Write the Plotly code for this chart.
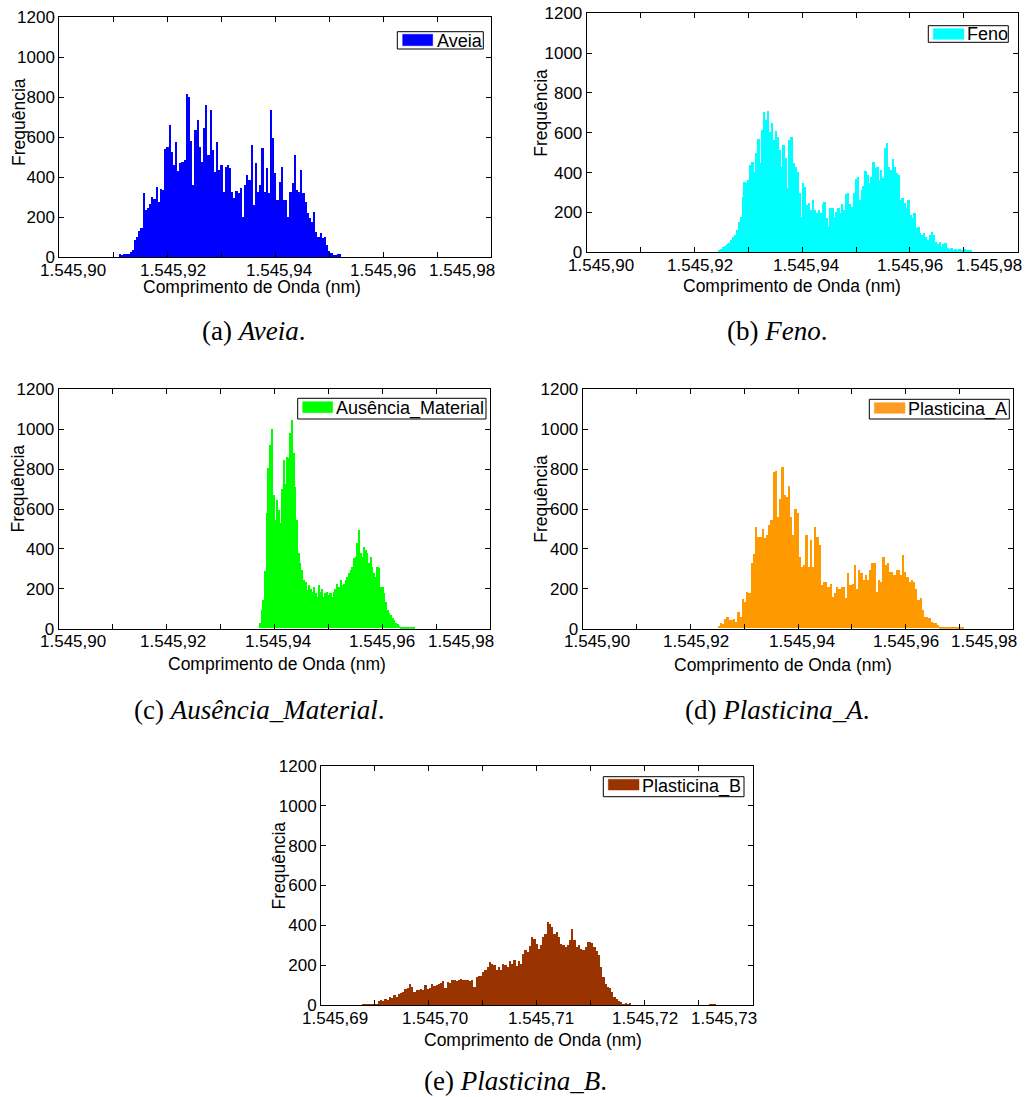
import numpy as np
import plotly.graph_objects as go

# ---------------- DATA ----------------
YTICK_VALUES = [0, 200, 400, 600, 800, 1000, 1200]
YTICK_LABELS = ["0", "200", "400", "600", "800", "1000", "1200"]
XTICK_LABELS_TOP = ["1.545,90", "1.545,92", "1.545,94", "1.545,96", "1.545,98"]
XTICK_VALUES_TOP = [1545.90, 1545.92, 1545.94, 1545.96, 1545.98]
XTICK_LABELS_E = ["1.545,69", "1.545,70", "1.545,71", "1.545,72", "1.545,73"]
XTICK_VALUES_E = [1545.69, 1545.70, 1545.71, 1545.72, 1545.73]

SERIES_NAMES = ["Aveia", "Feno", "Ausência_Material", "Plasticina_A", "Plasticina_B"]

# wavelength span (nm) covered by each histogram's bins
AVEIA_START, AVEIA_END = 1545.9111, 1545.9523
FENO_START, FENO_END = 1545.92443, 1545.9715
AUSENCIA_START, AUSENCIA_END = 1545.93721, 1545.9661
PLASTA_START, PLASTA_END = 1545.92501, 1545.97071
PLASTB_START, PLASTB_END = 1545.69361, 1545.72657

AVEIA_COUNTS = [12, 10, 13, 12, 15, 25, 35, 85, 100, 130, 145, 317, 235, 245, 265, 300, 290, 350, 275, 338,
                335, 540, 550, 658, 525, 458, 575, 430, 467, 475, 483, 817, 800, 580, 360, 633, 683, 550, 475, 642,
                758, 508, 733, 533, 425, 575, 433, 458, 325, 450, 458, 442, 325, 292, 330, 320, 342, 200, 358, 408,
                383, 558, 260, 467, 325, 358, 542, 325, 442, 317, 733, 592, 417, 283, 375, 450, 283, 283, 200, 325,
                367, 508, 333, 325, 433, 317, 275, 217, 192, 175, 225, 125, 100, 117, 92, 100, 58, 30, 17, 8,
                10, 15, 12]

FENO_COUNTS = [8, 15, 25, 30, 40, 43, 60, 77, 85, 110, 150, 177,
               278, 353, 345, 362, 437, 453, 403, 495, 566, 445, 613, 705, 663, 710, 604, 650, 562, 609,
               576, 512, 428, 537, 470, 320, 562, 579, 445, 428, 403, 295, 177, 348, 328, 236, 244, 211, 261, 211,
               194, 211, 194, 241, 253, 169, 127, 219, 219, 177, 202, 219, 194, 241, 211, 291, 298, 241, 228, 298,
               365, 378, 261, 311, 331, 408, 387, 345, 378, 453, 420, 428, 362, 412, 370, 521, 549, 428, 412, 465,
               428, 395, 387, 261, 270, 244, 219, 261, 186, 169, 194, 119, 127, 94, 85, 94, 77, 60, 85, 102,
               85, 52, 40, 52, 27, 40, 47, 18, 13, 18, 7, 13, 7, 13, 10, 7, 13, 7, 10, 7]

AUSENCIA_COUNTS = [25, 92, 142, 290, 576, 802, 920, 1000, 668, 543, 643, 593, 526, 701, 843, 726, 860, 852, 977, 1047,
                   877, 710, 543, 376, 326, 292, 242, 234, 192, 217, 200, 184, 209, 175, 159, 217, 184, 200, 159, 175,
                   184, 167, 175, 159, 184, 200, 225, 209, 242, 217, 225, 242, 259, 276, 292, 309, 351, 359, 426, 493,
                   376, 359, 409, 392, 376, 326, 359, 309, 276, 259, 309, 301, 209, 209, 175, 134, 92, 75, 67, 50,
                   42, 25, 20, 12, 8, 8, 5, 5, 5, 3, 5, 5, 5]

PLASTA_COUNTS = [13, 25, 20, 45, 55, 42, 42, 45, 33, 80, 55, 147, 134, 184, 175, 326, 371, 509, 459, 459,
                 500, 451, 470, 518, 543, 782, 790, 560, 651, 810, 668, 660, 715, 560, 468, 601, 576, 359, 309, 317,
                 468, 309, 443, 309, 509, 459, 418, 217, 234, 234, 209, 225, 159, 175, 209, 200, 209, 209, 150, 276,
                 217, 225, 317, 200, 292, 276, 242, 267, 242, 292, 326, 326, 184, 242, 234, 359, 317, 326, 284, 284,
                 267, 292, 292, 267, 367, 284, 259, 234, 242, 234, 200, 142, 150, 92, 58, 55, 50, 33, 25, 25,
                 17, 8, 8, 5, 5, 3, 3, 3, 3, 3, 3, 3]

PLASTB_COUNTS = [3, 5, 5, 5, 7, 5, 7, 8,
                 23, 27, 23, 35, 30, 43, 38, 52, 43, 60, 63, 68, 85, 90, 106, 93, 68, 77, 80, 85,
                 77, 102, 85, 90, 110, 97, 102, 110, 113, 123, 90, 118, 115, 127, 130, 123, 130, 135, 130, 127,
                 130, 123, 127, 93, 143, 147, 147, 169, 177, 194, 219, 210, 202, 177, 194, 177, 210, 202, 194, 224,
                 210, 227, 197, 224, 210, 260, 280, 269, 297, 344, 335, 310, 285, 302, 344, 360, 419, 411, 394, 360,
                 369, 344, 310, 302, 294, 302, 327, 386, 330, 294, 302, 285, 277, 294, 319, 319, 314, 294, 274, 252,
                 194, 143, 110, 93, 90, 68, 43, 35, 23, 18, 10, 13, 7, 13,
                 0, 0, 0, 0, 0, 0, 0, 0, 0, 0, 0, 0, 0, 0, 0, 0, 0, 0, 0, 0,
                 0, 0, 0, 0, 0, 0, 0, 0, 0, 0, 0, 0, 0, 0, 0, 4, 7, 4]

COLORS = ["#0000FF", "#00FFFF", "#00FF00", "#FF9900", "#993300"]
SWATCH_COLORS = ["#0000FF", "#00FFFF", "#00FF00", "#FF9C26", "#993300"]
CAPTIONS = ["(a) <i>Aveia</i>.", "(b) <i>Feno</i>.", "(c) <i>Ausência_Material</i>.",
            "(d) <i>Plasticina_A</i>.", "(e) <i>Plasticina_B</i>."]
X_TITLE = "Comprimento de Onda (nm)"
Y_TITLE = "Frequência"

# ---------------- LAYOUT (pixels) ----------------
W, H = 1025, 1097
SANS = "Liberation Sans, Arial, sans-serif"
SERIF = "Liberation Serif, Times New Roman, serif"

panels = [
    dict(counts=AVEIA_COUNTS, start=AVEIA_START, end=AVEIA_END,
         box=(59.3, 17.3, 491.0, 257.0), xr=(1545.90, 1545.98),
         tl=XTICK_LABELS_TOP, tv=XTICK_VALUES_TOP,
         xt=(251.7, 287.0), yt=(18.3, 121.7),
         leg=((397.3, 31.7, 483.3, 49.0), (402.7, 34.3, 432.7, 45.7), (435.5, 40.5)),
         cap=(253, 331)),
    dict(counts=FENO_COUNTS, start=FENO_START, end=FENO_END,
         box=(586.7, 13.3, 1017.7, 252.3), xr=(1545.90, 1545.98),
         tl=XTICK_LABELS_TOP, tv=XTICK_VALUES_TOP,
         xt=(791.7, 285.7), yt=(541.2, 112.5),
         leg=((928.3, 25.7, 1008.3, 42.3), (933.3, 28.7, 964.0, 39.3), (966.2, 34.0)),
         cap=(777, 331)),
    dict(counts=AUSENCIA_COUNTS, start=AUSENCIA_START, end=AUSENCIA_END,
         box=(58.7, 389.3, 490.0, 628.7), xr=(1545.90, 1545.98),
         tl=XTICK_LABELS_TOP, tv=XTICK_VALUES_TOP,
         xt=(277.0, 664.0), yt=(17.5, 489.0),
         leg=((297.7, 398.3, 486.0, 419.0), (302.7, 401.7, 332.7, 412.7), (334.5, 408.5)),
         cap=(259, 710)),
    dict(counts=PLASTA_COUNTS, start=PLASTA_START, end=PLASTA_END,
         box=(582.7, 389.3, 1013.3, 628.7), xr=(1545.90, 1545.98),
         tl=XTICK_LABELS_TOP, tv=XTICK_VALUES_TOP,
         xt=(783.3, 665.0), yt=(540.8, 499.0),
         leg=((869.3, 399.3, 1009.3, 419.0), (874.3, 402.7, 905.0, 413.3), (907.2, 409.0)),
         cap=(777, 710)),
    dict(counts=PLASTB_COUNTS, start=PLASTB_START, end=PLASTB_END,
         box=(321.0, 765.7, 752.7, 1005.3), xr=(1545.69, 1545.73),
         tl=XTICK_LABELS_E, tv=XTICK_VALUES_E,
         xt=(533.3, 1040.0), yt=(278.8, 865.7),
         leg=((603.3, 776.7, 744.0, 796.7), (608.3, 779.3, 639.0, 790.0), (640.5, 786.7)),
         cap=(515, 1081)),
]
LABEL_SHIFTS = [14, 6, 4, 0, -29]   # edge labels pulled inside the frame


def px(xp):
    return xp / W


def py(yp):
    return 1 - yp / H


fig = go.Figure()
annotations = []
shapes = []
layout = {}

for i, p in enumerate(panels):
    sfx = "" if i == 0 else str(i + 1)
    xref, yref = "x" + sfx, "y" + sfx
    x0, y0, x1, y1 = p["box"]
    counts = np.array(p["counts"], dtype=float)
    n = len(counts)
    bw = (p["end"] - p["start"]) / n
    centers = p["start"] + bw * (np.arange(n) + 0.5)

    fig.add_trace(go.Bar(x=centers, y=counts, width=bw, name=SERIES_NAMES[i],
                         marker=dict(color=COLORS[i], line=dict(width=0)),
                         xaxis=xref, yaxis=yref, showlegend=False))

    layout["xaxis" + sfx] = dict(
        domain=[px(x0), px(x1)], range=list(p["xr"]), anchor=yref, automargin=False,
        tickvals=list(np.linspace(p["xr"][0], p["xr"][1], 9)), showticklabels=False,
        ticks="inside", ticklen=5, tickwidth=1, tickcolor="black",
        showline=True, linecolor="black", linewidth=1, mirror="allticks",
        showgrid=False, zeroline=False)
    layout["yaxis" + sfx] = dict(
        domain=[py(y1), py(y0)], range=[0, 1200], anchor=xref, automargin=False,
        tickvals=YTICK_VALUES, ticktext=YTICK_LABELS,
        ticks="inside", ticklen=5, tickwidth=1, tickcolor="black",
        tickfont=dict(family=SANS, size=17, color="black"),
        showline=True, linecolor="black", linewidth=1, mirror="allticks",
        showgrid=False, zeroline=False)

    # x tick labels
    for lab, val, sh in zip(p["tl"], p["tv"], LABEL_SHIFTS):
        annotations.append(dict(x=val, y=py(y1 + 13), xref=xref, yref="paper", text=lab,
                                xshift=sh, showarrow=False, xanchor="center", yanchor="middle",
                                font=dict(family=SANS, size=17, color="black")))
    # axis titles
    annotations.append(dict(x=px(p["xt"][0]), y=py(p["xt"][1]), xref="paper", yref="paper",
                            text=X_TITLE, showarrow=False, xanchor="center", yanchor="middle",
                            font=dict(family=SANS, size=17.5, color="black")))
    annotations.append(dict(x=px(p["yt"][0]), y=py(p["yt"][1]), xref="paper", yref="paper",
                            text=Y_TITLE, showarrow=False, textangle=-90,
                            xanchor="center", yanchor="middle",
                            font=dict(family=SANS, size=17.5, color="black")))
    # legend (MATLAB-style box)
    (bx0, by0, bx1, by1), (sx0, sy0, sx1, sy1), (tx, ty) = p["leg"]
    shapes.append(dict(type="rect", xref="paper", yref="paper",
                       x0=px(bx0), x1=px(bx1), y0=py(by1), y1=py(by0),
                       fillcolor="white", line=dict(color="black", width=1), layer="above"))
    shapes.append(dict(type="rect", xref="paper", yref="paper",
                       x0=px(sx0), x1=px(sx1), y0=py(sy1), y1=py(sy0),
                       fillcolor=SWATCH_COLORS[i], line=dict(color=SWATCH_COLORS[i], width=0.5),
                       layer="above"))
    annotations.append(dict(x=px(tx), y=py(ty), xref="paper", yref="paper",
                            text=SERIES_NAMES[i], showarrow=False, xanchor="left", yanchor="middle",
                            borderpad=0,
                            font=dict(family=SANS, size=18, color="black")))
    # caption
    annotations.append(dict(x=px(p["cap"][0]), y=py(p["cap"][1]), xref="paper", yref="paper",
                            text=CAPTIONS[i], showarrow=False, xanchor="center", yanchor="middle",
                            font=dict(family=SERIF, size=27, color="black")))

fig.update_layout(
    width=W, height=H, margin=dict(l=0, r=0, t=0, b=0, autoexpand=False),
    paper_bgcolor="white", plot_bgcolor="white",
    bargap=0, showlegend=False,
    annotations=annotations, shapes=shapes, **layout)

fig.write_html("out.html", config={"displayModeBar": False},
               post_script="document.body.style.margin='0';document.body.style.overflow='hidden';")
